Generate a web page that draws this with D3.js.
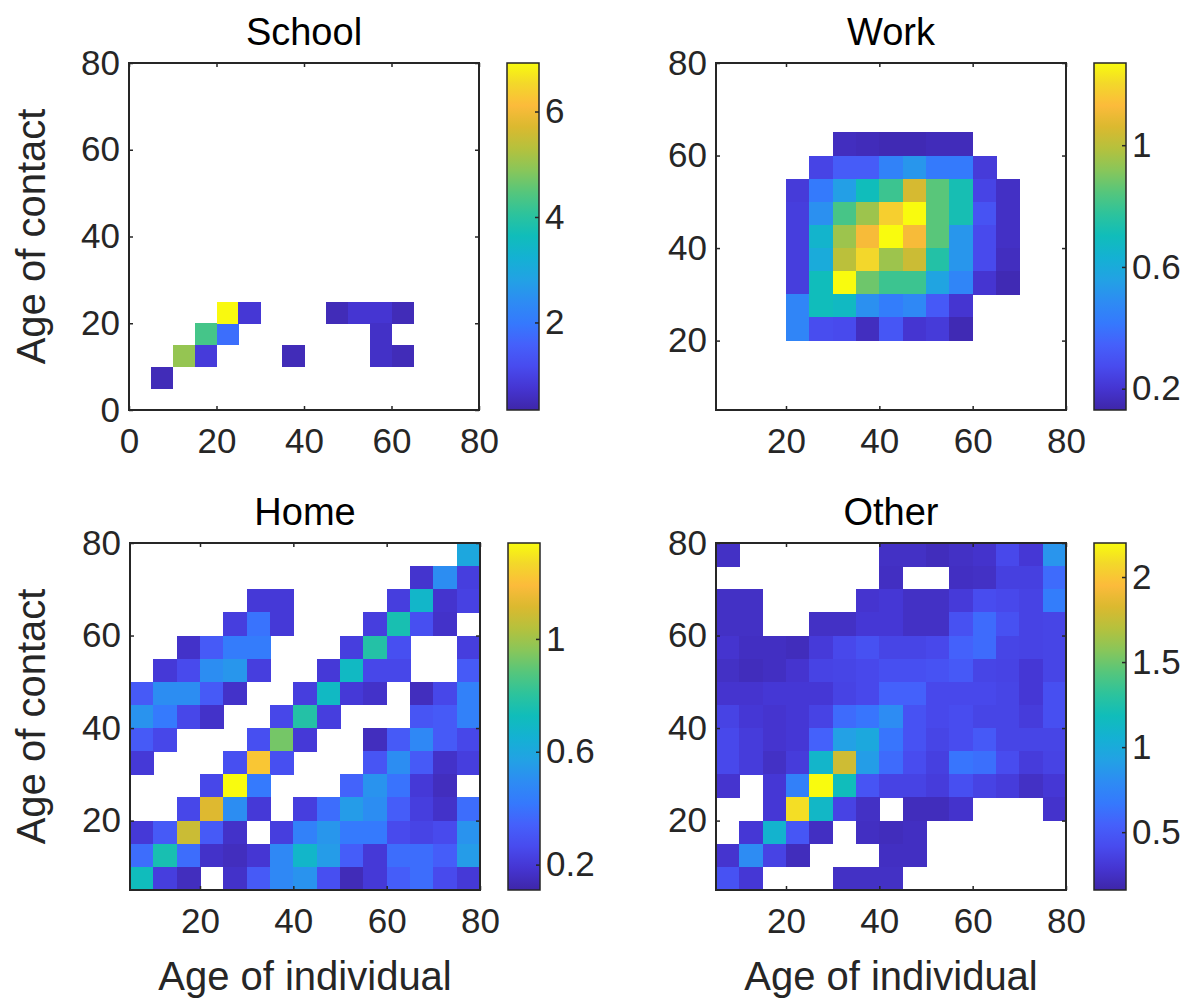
<!DOCTYPE html>
<html><head><meta charset="utf-8">
<script src="https://cdn.jsdelivr.net/npm/d3@7"></script>
<style>body{margin:0;background:#fff}svg text{font-family:"Liberation Sans",Arial,Helvetica,sans-serif}</style>
</head><body><svg id="c" width="1180" height="1000"></svg>
<script>
// lower edges of the 5-year age bins
const ageBins = [5,10,15,20,25,30,35,40,45,50,55,60,65,70,75];
const n = null;

// School: sparse cells [age of individual (bin start), age of contact (bin start), value]
const schoolCells = [
  [5,5,0.5],[10,10,5.0],[15,10,0.87],[15,15,4.3],[20,15,1.8],[20,20,6.9],[25,20,0.8],
  [35,10,0.5],[45,20,0.5],[50,20,0.75],[55,20,0.75],[60,20,0.5],[55,15,0.65],[55,10,0.65],[60,10,0.5]
];
// Matrices: rows top (contact 75-80) to bottom (contact 5-10), columns individual 5-10 ... 75-80
const workMatrix = [
  [n,n,n,n,n,n,n,n,n,n,n,n,n,n,n],
  [n,n,n,n,n,n,n,n,n,n,n,n,n,n,n],
  [n,n,n,n,n,n,n,n,n,n,n,n,n,n,n],
  [n,n,n,n,n,0.17,0.16,0.15,0.15,0.16,0.16,n,n,n,n],
  [n,n,n,n,0.25,0.33,0.33,0.45,0.52,0.42,0.42,0.22,n,n,n],
  [n,n,n,0.22,0.42,0.55,0.70,0.80,1.05,0.85,0.72,0.25,0.18,n,n],
  [n,n,n,0.23,0.50,0.82,0.95,1.18,1.27,0.85,0.72,0.30,0.18,n,n],
  [n,n,n,0.23,0.65,0.95,1.12,1.27,1.12,0.85,0.52,0.27,0.18,n,n],
  [n,n,n,0.23,0.60,1.00,1.20,0.95,1.03,0.75,0.52,0.27,0.17,n,n],
  [n,n,n,0.23,0.70,1.27,0.88,0.80,0.80,0.57,0.46,0.20,0.15,n,n],
  [n,n,n,0.46,0.70,0.68,0.50,0.43,0.47,0.32,0.20,n,n,n,n],
  [n,n,n,0.46,0.28,0.27,0.17,0.31,0.20,0.22,0.15,n,n,n,n],
  [n,n,n,n,n,n,n,n,n,n,n,n,n,n,n],
  [n,n,n,n,n,n,n,n,n,n,n,n,n,n,n],
  [n,n,n,n,n,n,n,n,n,n,n,n,n,n,n]
];
const homeMatrix = [
  [n,n,n,n,n,n,n,n,n,n,n,n,n,n,0.60],
  [n,n,n,n,n,n,n,n,n,n,n,n,0.18,0.50,0.22],
  [n,n,n,n,n,0.20,0.20,n,n,n,n,0.22,0.68,0.18,0.23],
  [n,n,n,n,0.22,0.40,0.20,n,n,n,0.22,0.75,0.28,0.17,n],
  [n,n,0.17,0.32,0.43,0.43,n,n,n,0.22,0.78,0.28,n,n,0.22],
  [n,0.20,0.26,0.50,0.53,0.22,n,n,0.20,0.70,0.25,0.25,n,n,0.32],
  [0.32,0.50,0.50,0.32,0.17,n,n,0.22,0.70,0.20,0.17,n,0.15,0.25,0.45],
  [0.52,0.42,0.25,0.17,n,n,0.25,0.78,0.22,n,n,n,0.30,0.32,0.45],
  [0.32,0.25,n,n,n,0.28,0.93,0.20,n,n,0.15,0.32,0.48,0.32,0.25],
  [0.20,n,n,n,0.28,1.22,0.28,n,n,n,0.30,0.50,0.32,0.17,0.22],
  [n,n,n,0.25,1.34,0.42,n,n,n,0.35,0.52,0.40,0.20,0.15,n],
  [n,n,0.25,1.12,0.50,0.20,n,0.22,0.38,0.55,0.50,0.33,0.22,0.17,0.38],
  [0.20,0.32,1.08,0.32,0.17,n,0.22,0.45,0.53,0.42,0.42,0.26,0.24,0.26,0.52],
  [0.38,0.75,0.38,0.17,0.15,0.19,0.48,0.68,0.55,0.33,0.20,0.38,0.38,0.33,0.55],
  [0.72,0.22,0.15,n,0.17,0.32,0.48,0.52,0.28,0.14,0.20,0.33,0.38,0.26,0.20]
];
const otherMatrix = [
  [0.25,n,n,n,n,n,n,0.25,0.25,0.22,0.25,0.27,0.40,0.30,0.85],
  [n,n,n,n,n,n,n,0.24,n,n,0.24,0.25,0.35,0.35,0.60],
  [0.25,0.25,n,n,n,n,0.28,0.30,0.25,0.25,0.32,0.42,0.40,0.37,0.70],
  [0.25,0.25,n,n,0.25,0.25,0.30,0.30,0.25,0.25,0.45,0.60,0.45,0.37,0.38],
  [0.28,0.24,0.24,0.22,0.32,0.40,0.45,0.38,0.38,0.40,0.55,0.60,0.38,0.37,0.38],
  [0.25,0.22,0.24,0.28,0.37,0.38,0.40,0.44,0.44,0.46,0.50,0.38,0.37,0.30,0.38],
  [0.28,0.28,0.30,0.30,0.30,0.37,0.40,0.55,0.55,0.40,0.40,0.40,0.38,0.30,0.44],
  [0.37,0.30,0.28,0.30,0.37,0.60,0.65,0.80,0.46,0.40,0.42,0.38,0.38,0.33,0.44],
  [0.40,0.33,0.28,0.30,0.55,0.92,0.98,0.65,0.46,0.38,0.42,0.50,0.38,0.38,0.38],
  [0.40,0.33,0.25,0.33,1.10,1.78,0.90,0.60,0.42,0.35,0.65,0.62,0.42,0.33,0.37],
  [0.28,n,0.30,0.72,2.20,1.18,0.47,0.37,0.37,0.33,0.44,0.37,0.33,0.25,0.30],
  [n,n,0.30,2.10,1.12,0.37,0.25,n,0.22,0.22,0.27,n,n,n,0.27],
  [n,0.30,1.08,0.48,0.24,n,0.24,0.22,0.24,n,n,n,n,n,n],
  [0.28,0.80,0.37,0.22,n,n,n,0.24,0.24,n,n,n,n,n,n],
  [0.46,0.30,n,n,n,0.25,0.25,0.25,n,n,n,n,n,n,n]
];

// colour limits and tick labels
const titles = ["School","Work","Home","Other"];
const colorLimits = [[0.34,6.92],[0.13,1.27],[0.11,1.34],[0.16,2.2]];
const colorbarTicks = [[2,4,6],[0.2,0.6,1],[0.2,0.6,1],[0.5,1,1.5,2]];
const schoolAxisTicks = [0,20,40,60,80];
const otherAxisTicks = [20,40,60,80];

// parula colormap stops
const parula = [
 [0.000,"#3e26a8"],[0.063,"#4535d2"],[0.125,"#484bee"],[0.188,"#4560fb"],
 [0.250,"#3579fd"],[0.313,"#2d8cf3"],[0.376,"#22a2e4"],[0.439,"#14b1d3"],
 [0.502,"#10bdba"],[0.565,"#2dc39c"],[0.627,"#55c67c"],[0.690,"#88c65a"],
 [0.753,"#b5c13d"],[0.816,"#dbb92f"],[0.878,"#fcbb3b"],[0.941,"#f3d82a"],[1.000,"#f9fb0e"]
];

function matrixToCells(m){
  const out=[];
  m.forEach((row,r)=>row.forEach((v,c)=>{ if(v!==null) out.push([ageBins[c], ageBins[ageBins.length-1-r], v]); }));
  return out;
}
const panelCells = [schoolCells, matrixToCells(workMatrix), matrixToCells(homeMatrix), matrixToCells(otherMatrix)];

const svg = d3.select("#c");
const defs = svg.append("defs");
const grad = defs.append("linearGradient").attr("id","parula").attr("x1",0).attr("y1",1).attr("x2",0).attr("y2",0);
parula.forEach(s=>grad.append("stop").attr("offset",s[0]).attr("stop-color",s[1]));

const W=350, H=347, TICKFS=35, TITLEFS=38, LABELFS=40, AX="#262626";
const layout = [{L:129,T:63},{L:716,T:63},{L:130,T:543},{L:716,T:543}];

function styleAxis(g, showText){
  g.select(".domain").remove();
  g.selectAll(".tick line").attr("stroke",AX).attr("stroke-width",1.5);
  g.selectAll(".tick text").attr("fill",AX).style("font-size",TICKFS+"px");
  if(!showText) g.selectAll(".tick text").remove();
}

for(let i=0;i<4;i++){
  const {L,T}=layout[i];
  const dom = i===0?[0,80]:[5,80];
  const ticks = i===0?schoolAxisTicks:otherAxisTicks;
  const x=d3.scaleLinear().domain(dom).range([L,L+W]);
  const y=d3.scaleLinear().domain(dom).range([T+H,T]);
  const [cmin,cmax]=colorLimits[i];
  const color=d3.scaleLinear().domain(parula.map(s=>cmin+s[0]*(cmax-cmin))).range(parula.map(s=>s[1])).clamp(true);
  const g=svg.append("g");
  g.append("g").selectAll("rect").data(panelCells[i]).join("rect")
    .attr("x",d=>x(d[0])).attr("y",d=>y(d[1]+5))
    .attr("width",d=>x(d[0]+5)-x(d[0])+0.5).attr("height",d=>y(d[1])-y(d[1]+5)+0.5)
    .attr("fill",d=>color(d[2])).attr("shape-rendering","crispEdges");
  // axes
  const gb=g.append("g").attr("transform",`translate(0,${T+H})`).call(d3.axisBottom(x).tickValues(ticks).tickSize(-4).tickPadding(18));
  styleAxis(gb,true);
  const gt=g.append("g").attr("transform",`translate(0,${T})`).call(d3.axisTop(x).tickValues(ticks).tickSize(-4));
  styleAxis(gt,false);
  const gl=g.append("g").attr("transform",`translate(${L},0)`).call(d3.axisLeft(y).tickValues(ticks).tickSize(-4).tickPadding(9));
  styleAxis(gl,true);
  const gr=g.append("g").attr("transform",`translate(${L+W},0)`).call(d3.axisRight(y).tickValues(ticks).tickSize(-4));
  styleAxis(gr,false);
  g.append("rect").attr("x",L).attr("y",T).attr("width",W).attr("height",H)
    .attr("fill","none").attr("stroke",AX).attr("stroke-width",2);
  // title
  g.append("text").attr("x",L+W/2).attr("y",T-18).attr("text-anchor","middle")
    .style("font-size",TITLEFS+"px").attr("fill","#000").text(titles[i]);
  // colorbar
  const cbx=L+378, cbw=32;
  const cy=d3.scaleLinear().domain([cmin,cmax]).range([T+H,T]);
  g.append("rect").attr("x",cbx).attr("y",T).attr("width",cbw).attr("height",H).attr("fill","url(#parula)");
  const gc=g.append("g").attr("transform",`translate(${cbx+cbw},0)`).call(d3.axisRight(cy).tickValues(colorbarTicks[i]).tickSize(-4).tickPadding(6).tickFormat(d3.format("~g")));
  styleAxis(gc,true);
  g.append("rect").attr("x",cbx).attr("y",T).attr("width",cbw).attr("height",H)
    .attr("fill","none").attr("stroke",AX).attr("stroke-width",1.5);
  // axis labels
  if(i%2===0){
    g.append("text").attr("transform",`translate(45,${T+H/2}) rotate(-90)`).attr("text-anchor","middle")
      .style("font-size",LABELFS+"px").attr("fill",AX).text("Age of contact");
  }
  if(i>=2){
    g.append("text").attr("x",L+W/2).attr("y",990).attr("text-anchor","middle")
      .style("font-size",LABELFS+"px").attr("fill",AX).text("Age of individual");
  }
}
</script></body></html>
